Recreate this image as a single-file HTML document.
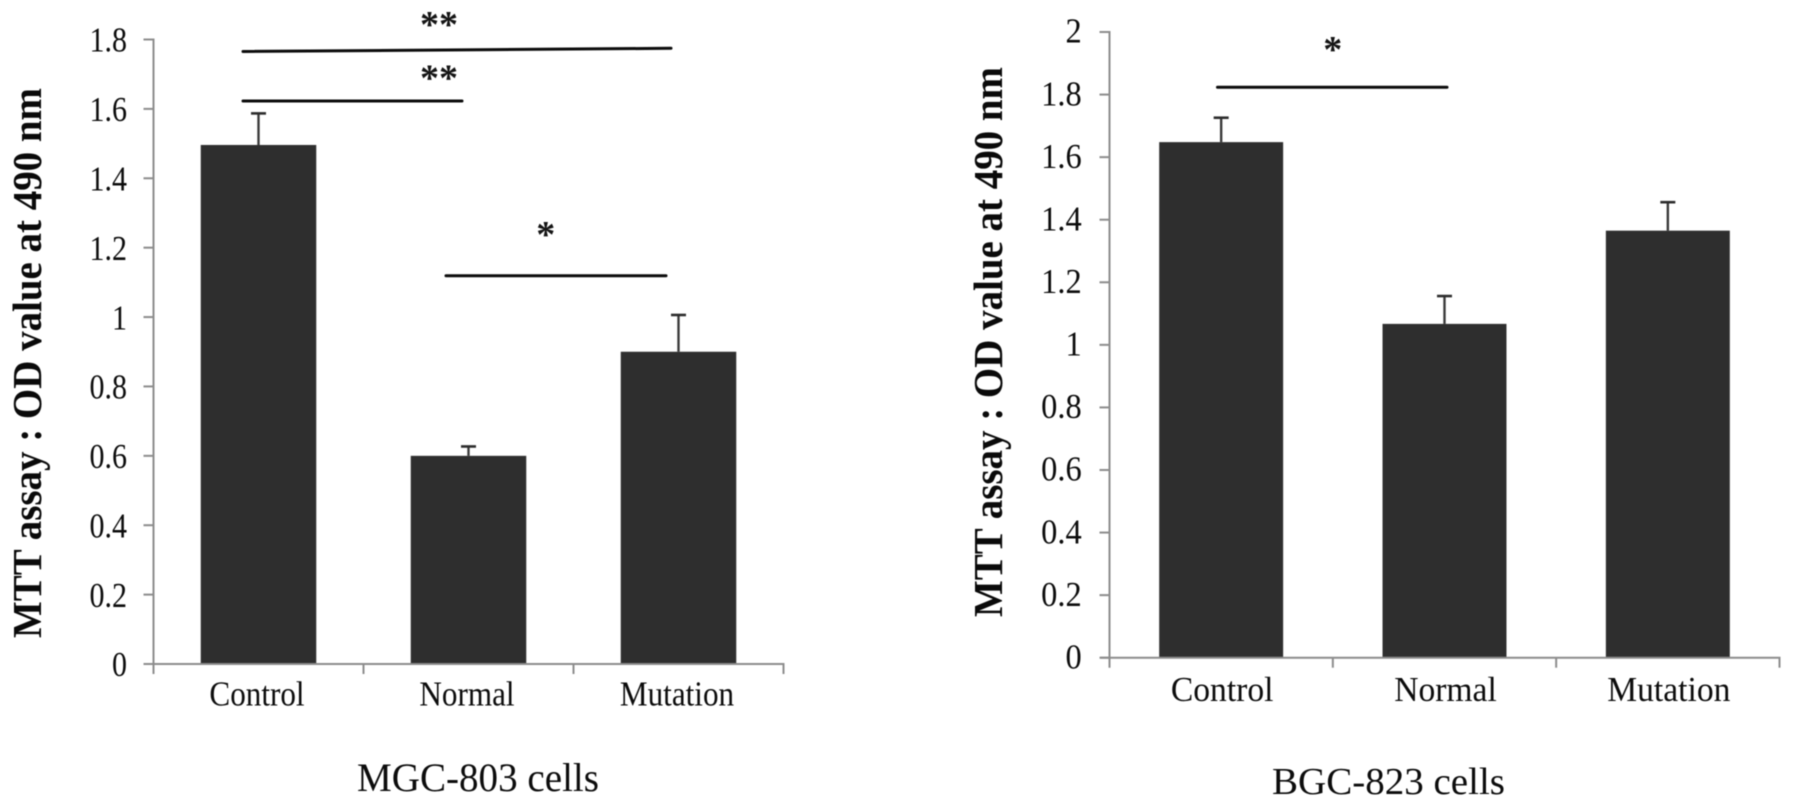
<!DOCTYPE html>
<html lang="en">
<head>
<meta charset="utf-8">
<title>MTT assay charts</title>
<style>
html,body{margin:0;padding:0;background:#fff;}
#figure{display:block;width:1795px;height:809px;filter:blur(0.4px);}
text{font-family:"Liberation Serif",serif;fill:#0c0c0c;}
.ytitle{font-weight:bold;font-size:41px;fill:#0a0a0a;}
.ctitle{font-size:40px;fill:#0c0c0c;}
.star{font-weight:bold;font-size:38px;fill:#141414;text-anchor:middle;}
.sig{stroke:#0c0c0c;stroke-width:3;stroke-linecap:round;fill:none;}
</style>
</head>
<body>
<svg id="figure" xmlns="http://www.w3.org/2000/svg" width="1795" height="809" viewBox="0 0 1795 809">
  <rect width="1795" height="809" fill="#fff"/>

  <g id="chart-mgc">
    <text class="ytitle" transform="translate(41,638) rotate(-90)" textLength="550" lengthAdjust="spacingAndGlyphs">MTT assay : OD value at 490 nm</text>
    <text class="ctitle" x="357" y="791" textLength="242" lengthAdjust="spacingAndGlyphs">MGC-803 cells</text>
    <line class="sig" x1="243" y1="51.5" x2="671" y2="48.3"/>
    <line class="sig" x1="243" y1="101" x2="462" y2="101"/>
    <line class="sig" x1="446" y1="275.7" x2="666" y2="275.7"/>
    <text class="star" x="439" y="37">**</text>
    <text class="star" x="439" y="90.5">**</text>
    <text class="star" x="545.7" y="247">*</text>
  </g>

  <g id="chart-bgc">
    <text class="ytitle" transform="translate(1002,617) rotate(-90)" textLength="550" lengthAdjust="spacingAndGlyphs">MTT assay : OD value at 490 nm</text>
    <text class="ctitle" style="font-size:38px" x="1272" y="794" textLength="233" lengthAdjust="spacingAndGlyphs">BGC-823 cells</text>
    <line class="sig" x1="1217.5" y1="87.3" x2="1447" y2="87.3"/>
    <text class="star" x="1332.7" y="62">*</text>
  </g>
</svg>
<script>
const mgcCategories = ["Control", "Normal", "Mutation"];
const mgcMeans = [1.496, 0.60, 0.90];
const mgcErrors = [0.091, 0.027, 0.106];
const mgcTickLabels = ["0", "0.2", "0.4", "0.6", "0.8", "1", "1.2", "1.4", "1.6", "1.8"];

const bgcCategories = ["Control", "Normal", "Mutation"];
const bgcMeans = [1.648, 1.067, 1.365];
const bgcErrors = [0.078, 0.089, 0.091];
const bgcTickLabels = ["0", "0.2", "0.4", "0.6", "0.8", "1", "1.2", "1.4", "1.6", "1.8", "2"];

const SVG_NS = "http://www.w3.org/2000/svg";

function make(parent, tag, attrs, content) {
  const el = document.createElementNS(SVG_NS, tag);
  for (const key in attrs) el.setAttribute(key, attrs[key]);
  if (content !== undefined) el.textContent = content;
  parent.appendChild(el);
  return el;
}

function drawChart(root, prefix, categories, means, errors, tickLabels, opt) {
  const maxValue = Number(tickLabels[tickLabels.length - 1]);
  const yScale = function (v) { return opt.y0 - (v / maxValue) * (opt.y0 - opt.yTop); };
  const band = opt.width / categories.length;
  const xCenter = function (i) { return opt.x0 + band * (i + 0.5); };
  const barWidth = band * opt.barFraction;

  categories.forEach(function (cat, i) {
    const cx = xCenter(i);
    const top = yScale(means[i]);
    const errTop = yScale(means[i] + errors[i]);

    const stem = make(root, "line", {x1: cx, x2: cx, y1: top, y2: errTop, stroke: "#3a3a3a", "stroke-width": 2.4});
    
    

    const cap = make(root, "line", {x1: cx - 7.5, x2: cx + 7.5, y1: errTop, y2: errTop, stroke: "#2c2c2c", "stroke-width": 2.6});
    
    

    const bar = make(root, "rect", {x: cx - barWidth / 2, y: top, width: barWidth, height: opt.y0 - top, fill: "#2e2e2e"});
    
    

    const label = make(root, "text", {
      transform: "translate(" + (cx + opt.catOffset) + "," + opt.catBaseline + ") scale(" + opt.catSqueeze + ",1)",
      "text-anchor": "middle",
      "font-size": 35
    }, cat);
    
    
  });

  const yAxis = make(root, "line", {x1: opt.x0, x2: opt.x0, y1: yScale(maxValue) - 1, y2: opt.y0 + 10, stroke: "#8c8c8c", "stroke-width": 2});
  
  

  const xAxis = make(root, "line", {x1: opt.x0 - 9, x2: opt.x0 + opt.width + 1, y1: opt.y0, y2: opt.y0, stroke: "#8c8c8c", "stroke-width": 2});
  
  

  categories.forEach(function (cat, i) {
    const tx = opt.x0 + band * (i + 1);
    const tick = make(root, "line", {x1: tx, x2: tx, y1: opt.y0, y2: opt.y0 + 10, stroke: "#8c8c8c", "stroke-width": 2});
    
    
  });

  tickLabels.forEach(function (lab) {
    const ty = yScale(Number(lab));
    const tick = make(root, "line", {x1: opt.x0 - 10, x2: opt.x0, y1: ty, y2: ty, stroke: "#8c8c8c", "stroke-width": 2});
    
    

    const text = make(root, "text", {
      transform: "translate(" + opt.tickRight + "," + (ty + opt.tickDrop) + ") scale(" + opt.tickSqueeze + ",1)",
      "text-anchor": "end",
      "font-size": 34.5
    }, lab);
    
    
  });
}

drawChart(document.getElementById("chart-mgc"), "mgc", mgcCategories, mgcMeans, mgcErrors, mgcTickLabels, {
  x0: 153.5, width: 630, y0: 664, yTop: 39.5, barFraction: 0.55,
  catOffset: -1.5, catBaseline: 705.5, catSqueeze: 0.89,
  tickRight: 127, tickSqueeze: 0.87, tickDrop: 12.2
});

drawChart(document.getElementById("chart-bgc"), "bgc", bgcCategories, bgcMeans, bgcErrors, bgcTickLabels, {
  x0: 1109.5, width: 670, y0: 657.7, yTop: 32, barFraction: 0.555,
  catOffset: 1, catBaseline: 701, catSqueeze: 0.96,
  tickRight: 1081.7, tickSqueeze: 0.94, tickDrop: 10.7
});
</script>
</body>
</html>
